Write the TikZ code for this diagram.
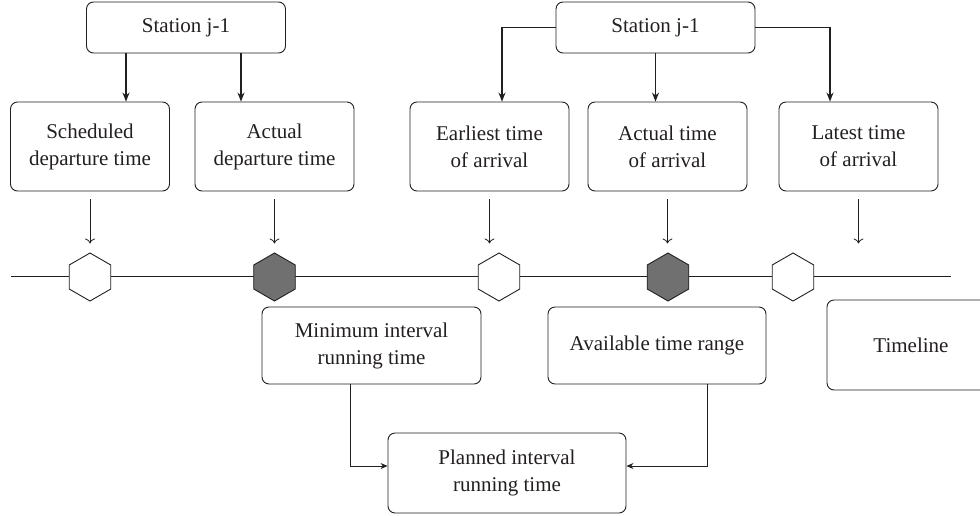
\documentclass[tikz,border=0pt]{standalone}
\usepackage{fontspec}
\setmainfont{Liberation Serif}
\usetikzlibrary{shapes.geometric,arrows.meta}
\definecolor{hexgray}{RGB}{112,112,112}
\definecolor{ink}{RGB}{35,31,32}
\begin{document}
\begin{tikzpicture}[
    x=1pt, y=-1pt,
    box/.style={draw=ink, line width=0.9pt, rounded corners=7pt, inner sep=0pt, align=center,
                font=\fontsize{21}{27}\selectfont, text=ink},
    hexa/.style={draw=ink, line width=0.9pt, regular polygon, regular polygon sides=6,
                 shape border rotate=30, minimum size=48pt, inner sep=0pt},
    barrow/.style={draw=ink, line width=1.1pt, -{Stealth[length=9pt,width=7pt]}},
    tarrow/.style={draw=ink, line width=0.8pt, -{To[length=5pt,width=10pt]}},
    sarrow/.style={draw=ink, line width=0.8pt, -{Stealth[length=7pt,width=6pt]}}
]
    \clip (0,0) rectangle (980,515);

    % stations
    \node[box, minimum width=199pt, minimum height=51pt] (stA) at (186,27.5) {Station j-1};
    \node[box, minimum width=199pt, minimum height=51pt] (stB) at (655.5,27.5) {Station j-1};

    % times
    \node[box, minimum width=159pt, minimum height=89pt] (sched) at (90,146.5) {Scheduled\\departure time};
    \node[box, minimum width=159pt, minimum height=89pt] (actdep) at (274.5,146.5) {Actual\\departure time};
    \node[box, minimum width=159pt, minimum height=89pt] (earliest) at (489.5,146.5) {Earliest time\\of arrival};
    \node[box, minimum width=159pt, minimum height=89pt] (actarr) at (667.5,146.5) {Actual time\\of arrival};
    \node[box, minimum width=159pt, minimum height=89pt] (latest) at (858.5,146.5) {Latest time\\of arrival};

    \draw[barrow] ([xshift=-60pt]stA.south) -- ([xshift=-60pt]stA.south |- sched.north);
    \draw[barrow] ([xshift=55pt]stA.south) -- ([xshift=55pt]stA.south |- actdep.north);
    \draw[barrow] (stB.west) -| ([xshift=12.5pt]earliest.north);
    \draw[barrow] (stB.south) -- (stB.south |- actarr.north);
    \draw[barrow] (stB.east) -| ([xshift=-28.5pt]latest.north);

    % timeline
    \coordinate (tl0) at (11,276);
    \coordinate (tl1) at (951,276);
    \draw[draw=ink, line width=0.9pt] (tl0) -- (tl1);
    \node[hexa, fill=white] (h1) at (90,277) {};
    \node[hexa, fill=hexgray] (h2) at (274.5,277) {};
    \node[hexa, fill=white] (h3) at (499,277) {};
    \node[hexa, fill=hexgray] (h4) at (668,277) {};
    \node[hexa, fill=white] (h5) at (793,277) {};

    \foreach \b in {sched,actdep,earliest,actarr,latest}
        \draw[tarrow] ([yshift=-8pt]\b.south) -- ++(0,44);

    % intervals
    \node[box, minimum width=219pt, minimum height=77pt] (minint) at (371.5,345.5) {Minimum interval\\running time};
    \node[box, minimum width=218pt, minimum height=77pt] (avail) at (657,345.5) {Available time range};
    \node[box, minimum width=168pt, minimum height=90pt] (tline) at (911,345) {Timeline};
    \node[box, minimum width=238pt, minimum height=80pt] (planned) at (507,473) {Planned interval\\running time};

    \draw[sarrow] ([xshift=-21.5pt]minint.south) |- ([yshift=7pt]planned.west);
    \draw[sarrow] ([xshift=50pt]avail.south) |- ([yshift=7pt]planned.east);
\end{tikzpicture}
\end{document}
